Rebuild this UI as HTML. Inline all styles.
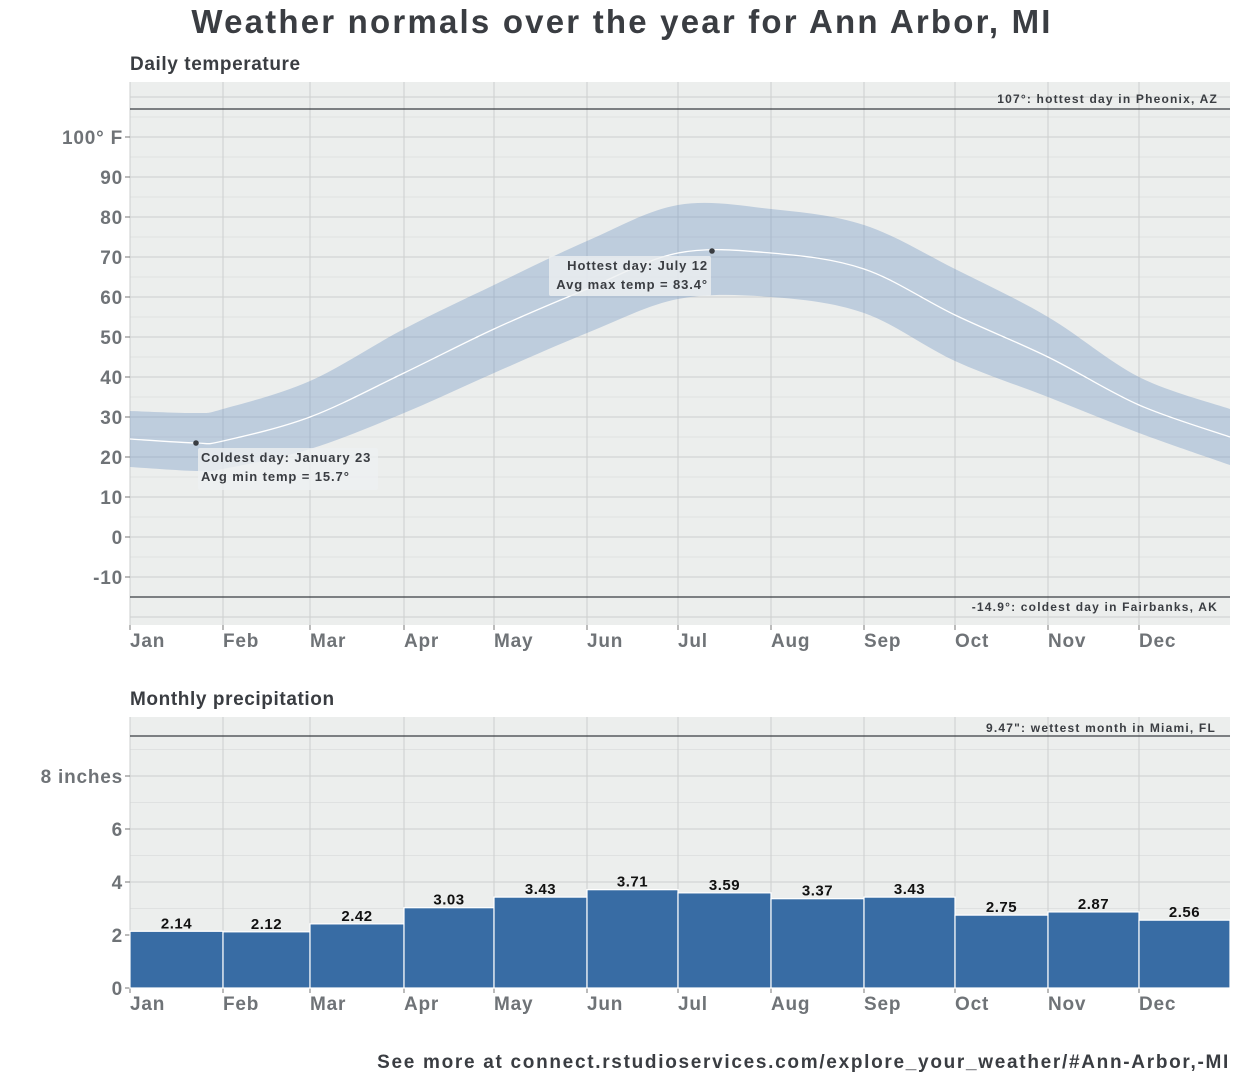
<!DOCTYPE html>
<html><head><meta charset="utf-8"><style>
body{margin:0;background:#fff;}
svg text{font-family:"Liberation Sans",sans-serif;}
</style></head><body>
<svg id="s" width="1245" height="1080" xmlns="http://www.w3.org/2000/svg">
<text x="622" y="33" text-anchor="middle" font-size="33" font-weight="bold" fill="#3a3d42" letter-spacing="2.2">Weather normals over the year for Ann Arbor, MI</text>
<text x="130" y="70" font-size="19" font-weight="bold" fill="#3a3d42" letter-spacing="0.6">Daily temperature</text>
<rect x="130" y="82" width="1100" height="543" fill="#eceeed"/>
<g id="tg"></g>
<path id="band" fill="rgb(107,144,191)" fill-opacity="0.35"/>
<path id="mean" fill="none" stroke="#fff" stroke-width="1.3"/>
<line x1="130" x2="1230" y1="109" y2="109" stroke="#3a3d42" stroke-width="1.2"/>
<line x1="130" x2="1230" y1="597" y2="597" stroke="#3a3d42" stroke-width="1.2"/>
<text x="1218" y="103" text-anchor="end" font-size="12" font-weight="bold" fill="#3a3d42" letter-spacing="1.2">107°: hottest day in Pheonix, AZ</text>
<text x="1218" y="611" text-anchor="end" font-size="12" font-weight="bold" fill="#3a3d42" letter-spacing="1.2">-14.9°: coldest day in Fairbanks, AK</text>
<circle cx="196" cy="443" r="2.8" fill="#3a3d42"/>
<rect x="198" y="448" width="180" height="42" fill="#eef0f1" fill-opacity="0.8" rx="2"/>
<text x="201" y="462" font-size="13" font-weight="bold" fill="#3a3d42" letter-spacing="0.9">Coldest day: January 23</text>
<text x="201" y="481" font-size="13" font-weight="bold" fill="#3a3d42" letter-spacing="0.9">Avg min temp = 15.7°</text>
<circle cx="712" cy="251" r="2.8" fill="#3a3d42"/>
<rect x="549" y="256" width="162" height="40" fill="#eef0f1" fill-opacity="0.8" rx="2"/>
<text x="708" y="270" text-anchor="end" font-size="13" font-weight="bold" fill="#3a3d42" letter-spacing="0.9">Hottest day: July 12</text>
<text x="708" y="289" text-anchor="end" font-size="13" font-weight="bold" fill="#3a3d42" letter-spacing="0.9">Avg max temp = 83.4°</text>
<text x="130" y="705" font-size="19" font-weight="bold" fill="#3a3d42" letter-spacing="0.6">Monthly precipitation</text>
<rect x="130" y="717" width="1100" height="271" fill="#eceeed"/>
<g id="pg"></g>
<line x1="130" x2="1230" y1="736" y2="736" stroke="#3a3d42" stroke-width="1.2"/>
<text x="1216" y="732" text-anchor="end" font-size="12" font-weight="bold" fill="#3a3d42" letter-spacing="1.2">9.47": wettest month in Miami, FL</text>
<text x="1230" y="1068" text-anchor="end" font-size="19" font-weight="bold" fill="#3a3d42" letter-spacing="1.7">See more at connect.rstudioservices.com/explore_your_weather/#Ann-Arbor,-MI</text>
</svg>
<script>
var NS="http://www.w3.org/2000/svg",s=document.getElementById('s');
function el(p,t,a,txt){var e=document.createElementNS(NS,t);for(var k in a)e.setAttribute(k,a[k]);if(txt!=null)e.textContent=txt;p.appendChild(e);return e;}
var mx=[130,223,310,404,494,587,678,771,864,955,1048,1139,1230],mn=["Jan","Feb","Mar","Apr","May","Jun","Jul","Aug","Sep","Oct","Nov","Dec"];
var tg=document.getElementById('tg'),pg=document.getElementById('pg');
for(var v=-20;v<=110;v+=5){var y=537-4*v;if(y<82||y>625)continue;el(tg,'line',{x1:130,x2:1230,y1:y,y2:y,stroke:v%10==0?'#cdcfcf':'#dfe1e1','stroke-width':1});}
for(var v=-10;v<=100;v+=10){var y=537-4*v;el(s,'line',{x1:125,x2:130,y1:y,y2:y,stroke:'#777'});el(s,'text',{x:123,y:y+7,'text-anchor':'end','font-size':19,'font-weight':'bold',fill:'#6f7377','letter-spacing':0.8},v==100?'100° F':v);}
for(var v=1;v<=9;v++){var y=988-26.5*v;el(pg,'line',{x1:130,x2:1230,y1:y,y2:y,stroke:v%2==0?'#cdcfcf':'#dfe1e1'});}
[0,2,4,6,8].forEach(function(v){var y=988-26.5*v;el(s,'line',{x1:125,x2:130,y1:y,y2:y,stroke:'#777'});el(s,'text',{x:123,y:y+7,'text-anchor':'end','font-size':19,'font-weight':'bold',fill:'#6f7377','letter-spacing':0.8},v==8?'8 inches':v);});
for(var i=0;i<12;i++){el(tg,'line',{x1:mx[i],x2:mx[i],y1:82,y2:625,stroke:'#cdcfcf'});el(pg,'line',{x1:mx[i],x2:mx[i],y1:717,y2:988,stroke:'#cdcfcf'});
el(s,'line',{x1:mx[i],x2:mx[i],y1:625,y2:630,stroke:'#777'});el(s,'line',{x1:mx[i],x2:mx[i],y1:988,y2:993,stroke:'#777'});
el(s,'text',{x:mx[i],y:647,'font-size':19,'font-weight':'bold',fill:'#6f7377','letter-spacing':0.8},mn[i]);el(s,'text',{x:mx[i],y:1010,'font-size':19,'font-weight':'bold',fill:'#6f7377','letter-spacing':0.8},mn[i]);}
var pr=[2.14,2.12,2.42,3.03,3.43,3.71,3.59,3.37,3.43,2.75,2.87,2.56];
for(var i=0;i<12;i++){var h=pr[i]*26.5;el(s,'rect',{x:mx[i],y:988-h,width:mx[i+1]-mx[i],height:h,fill:'#386ca4',stroke:'#fff','stroke-width':1.2});
el(s,'text',{x:(mx[i]+mx[i+1])/2,y:988-h-3,'text-anchor':'middle','font-size':15,'font-weight':'bold',fill:'#111','letter-spacing':0.5},pr[i].toFixed(2));}
var X=[130,196,223,310,404,494,587,678,771,864,955,1048,1139,1230];
var MX=[31.5,31,32,39,52,63,74,83,82,78,67,55,40,32],MI=[17.5,16.5,17,22,31,41,51,59.5,60,56,44,35,26,18],ME=[24.5,23.5,24,30,41,52,62,71,71,67,55.5,45,33,25];
function pts(a){return X.map(function(x,i){return [x,537-4*a[i]];});}
function cr(p){var d='';for(var i=0;i<p.length-1;i++){var p0=p[i-1]||p[i],p1=p[i],p2=p[i+1],p3=p[i+2]||p2;
var c1=[p1[0]+(p2[0]-p0[0])/6,p1[1]+(p2[1]-p0[1])/6],c2=[p2[0]-(p3[0]-p1[0])/6,p2[1]-(p3[1]-p1[1])/6];
d+=(i==0?'M'+p1[0]+','+p1[1]:'')+'C'+c1+' '+c2+' '+p2;}return d;}
var up=cr(pts(MX)),lo=pts(MI).reverse();
document.getElementById('band').setAttribute('d',up+'L'+lo[0]+cr(lo).replace(/^M[^C]*/,'')+'Z');
document.getElementById('mean').setAttribute('d',cr(pts(ME)));
</script>
</body></html>
